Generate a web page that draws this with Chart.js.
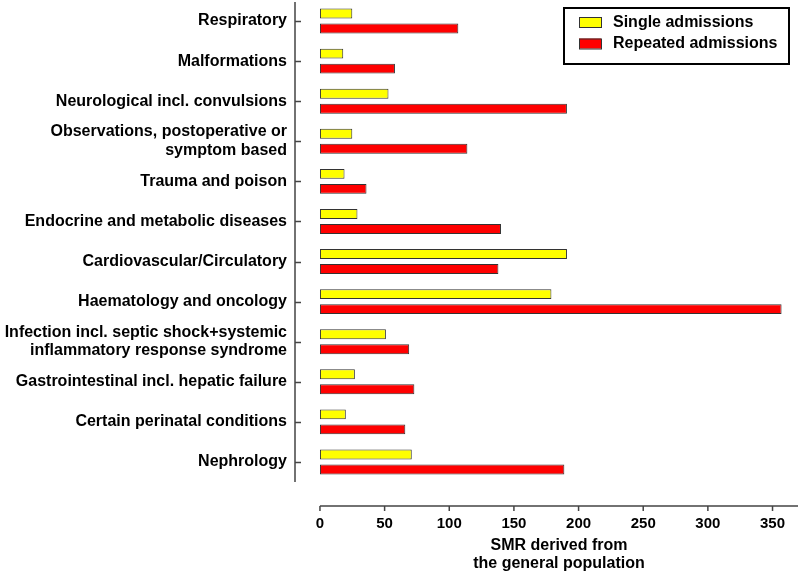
<!DOCTYPE html>
<html>
<head>
<meta charset="utf-8">
<script src="https://cdn.jsdelivr.net/npm/chart.js@4/dist/chart.umd.min.js"></script>
<style>
  html, body { margin: 0; padding: 0; background: #fff; }
  #wrap { width: 800px; height: 574px; }
</style>
</head>
<body>
<div id="wrap"><canvas id="chartSmr"></canvas></div>
<script>
// categories (top to bottom)
const categories = [
    'Respiratory',
    'Malformations',
    'Neurological incl. convulsions',
    ['Observations, postoperative or', 'symptom based'],
    'Trauma and poison',
    'Endocrine and metabolic diseases',
    'Cardiovascular/Circulatory',
    'Haematology and oncology',
    ['Infection incl. septic shock+systemic', 'inflammatory response syndrome'],
    'Gastrointestinal incl. hepatic failure',
    'Certain perinatal conditions',
    'Nephrology'
];

// SMR values
const singleAdmissions   = [25, 18, 53, 25, 19, 29, 191, 179, 51, 27, 20, 71];
const repeatedAdmissions = [107, 58, 191, 114, 36, 140, 138, 357, 69, 73, 66, 189];

const xTicks = [0, 50, 100, 150, 200, 250, 300, 350];
const xTitle = ['SMR derived from', 'the general population'];

const FONT = 'Arial, "Liberation Sans", sans-serif';

// axes drawn apart from each other, plus boxed legend
const detachedAxes = {
    id: 'detachedAxes',
    afterDraw(chart) {
        const { ctx, chartArea, scales } = chart;
        const x = scales.x, y = scales.y;
        ctx.save();
        ctx.strokeStyle = '#444';
        ctx.lineWidth = 1.5;

        // y axis + ticks
        ctx.beginPath();
        ctx.moveTo(chartArea.left, chartArea.top + 1);
        ctx.lineTo(chartArea.left, chartArea.bottom);
        categories.forEach((c, i) => {
            const py = Math.round(y.getPixelForValue(i)) + 0.5;
            ctx.moveTo(chartArea.left, py);
            ctx.lineTo(chartArea.left + 6, py);
        });
        ctx.stroke();

        // x axis + ticks
        const ay = chartArea.bottom + 24;
        ctx.beginPath();
        ctx.moveTo(x.getPixelForValue(0), ay);
        ctx.lineTo(chartArea.right, ay);
        xTicks.forEach(v => {
            const px = x.getPixelForValue(v);
            ctx.moveTo(px, ay);
            ctx.lineTo(px, ay + 5);
        });
        ctx.stroke();

        // x axis title, centred on the drawn axis
        ctx.fillStyle = '#000';
        ctx.font = 'bold 16px ' + FONT;
        ctx.textAlign = 'center';
        ctx.textBaseline = 'middle';
        const cx = (x.getPixelForValue(0) + chartArea.right) / 2;
        xTitle.forEach((t, i) => ctx.fillText(t, cx, ay + 40 + i * 18));

        // legend box
        ctx.lineWidth = 2;
        ctx.strokeStyle = '#000';
        ctx.strokeRect(564, 8, 225, 56);
        ctx.lineWidth = 1;
        ctx.strokeStyle = '#333';
        ctx.font = 'bold 16px ' + FONT;
        ctx.textAlign = 'left';
        chart.data.datasets.forEach((ds, i) => {
            const top = 17 + i * 21.5;
            ctx.fillStyle = ds.backgroundColor;
            ctx.fillRect(579, top, 22, 10);
            ctx.strokeRect(579.5, top + 0.5, 22, 10);
            ctx.fillStyle = '#000';
            ctx.fillText(ds.label, 613, top + 5.5);
        });
        ctx.restore();
    }
};

new Chart(document.getElementById('chartSmr'), {
    type: 'bar',
    data: {
        labels: categories,
        datasets: [
            {
                label: 'Single admissions',
                data: singleAdmissions,
                backgroundColor: '#ffff00',
                borderColor: '#333',
                borderWidth: 1,
                borderSkipped: false,
                categoryPercentage: 0.75,
                barPercentage: 0.66,
            },
            {
                label: 'Repeated admissions',
                data: repeatedAdmissions,
                backgroundColor: '#ff0000',
                borderColor: '#333',
                borderWidth: 1,
                borderSkipped: false,
                categoryPercentage: 0.75,
                barPercentage: 0.66,
            },
        ],
    },
    options: {
        indexAxis: 'y',
        responsive: true,
        maintainAspectRatio: false,
        animation: false,
        layout: { padding: { top: 1, right: 2, bottom: 0, left: 0 } },
        plugins: { legend: { display: false }, tooltip: { enabled: false } },
        scales: {
            x: {
                min: -19.3,
                max: 369.7,
                grid: { display: false, drawTicks: false },
                border: { display: false },
                afterBuildTicks: (scale) => { scale.ticks = xTicks.map(v => ({ value: v })); },
                afterFit: (scale) => {
                    scale.height = 92;
                    scale.paddingLeft = 0;
                    scale.paddingRight = 0;
                },
                ticks: {
                    padding: 33,
                    color: '#000',
                    font: { family: FONT, size: 15, weight: 'bold' },
                    maxRotation: 0,
                    autoSkip: false,
                },
            },
            y: {
                grid: { display: false, drawTicks: false },
                border: { display: false },
                afterFit: (scale) => {
                    scale.width = 295;
                    scale.paddingTop = 0;
                    scale.paddingBottom = 0;
                },
                ticks: {
                    padding: 8,
                    color: '#000',
                    autoSkip: false,
                    font: { family: FONT, size: 16, weight: 'bold', lineHeight: 1.15 },
                },
            },
        },
    },
    plugins: [detachedAxes],
});
</script>
</body>
</html>
